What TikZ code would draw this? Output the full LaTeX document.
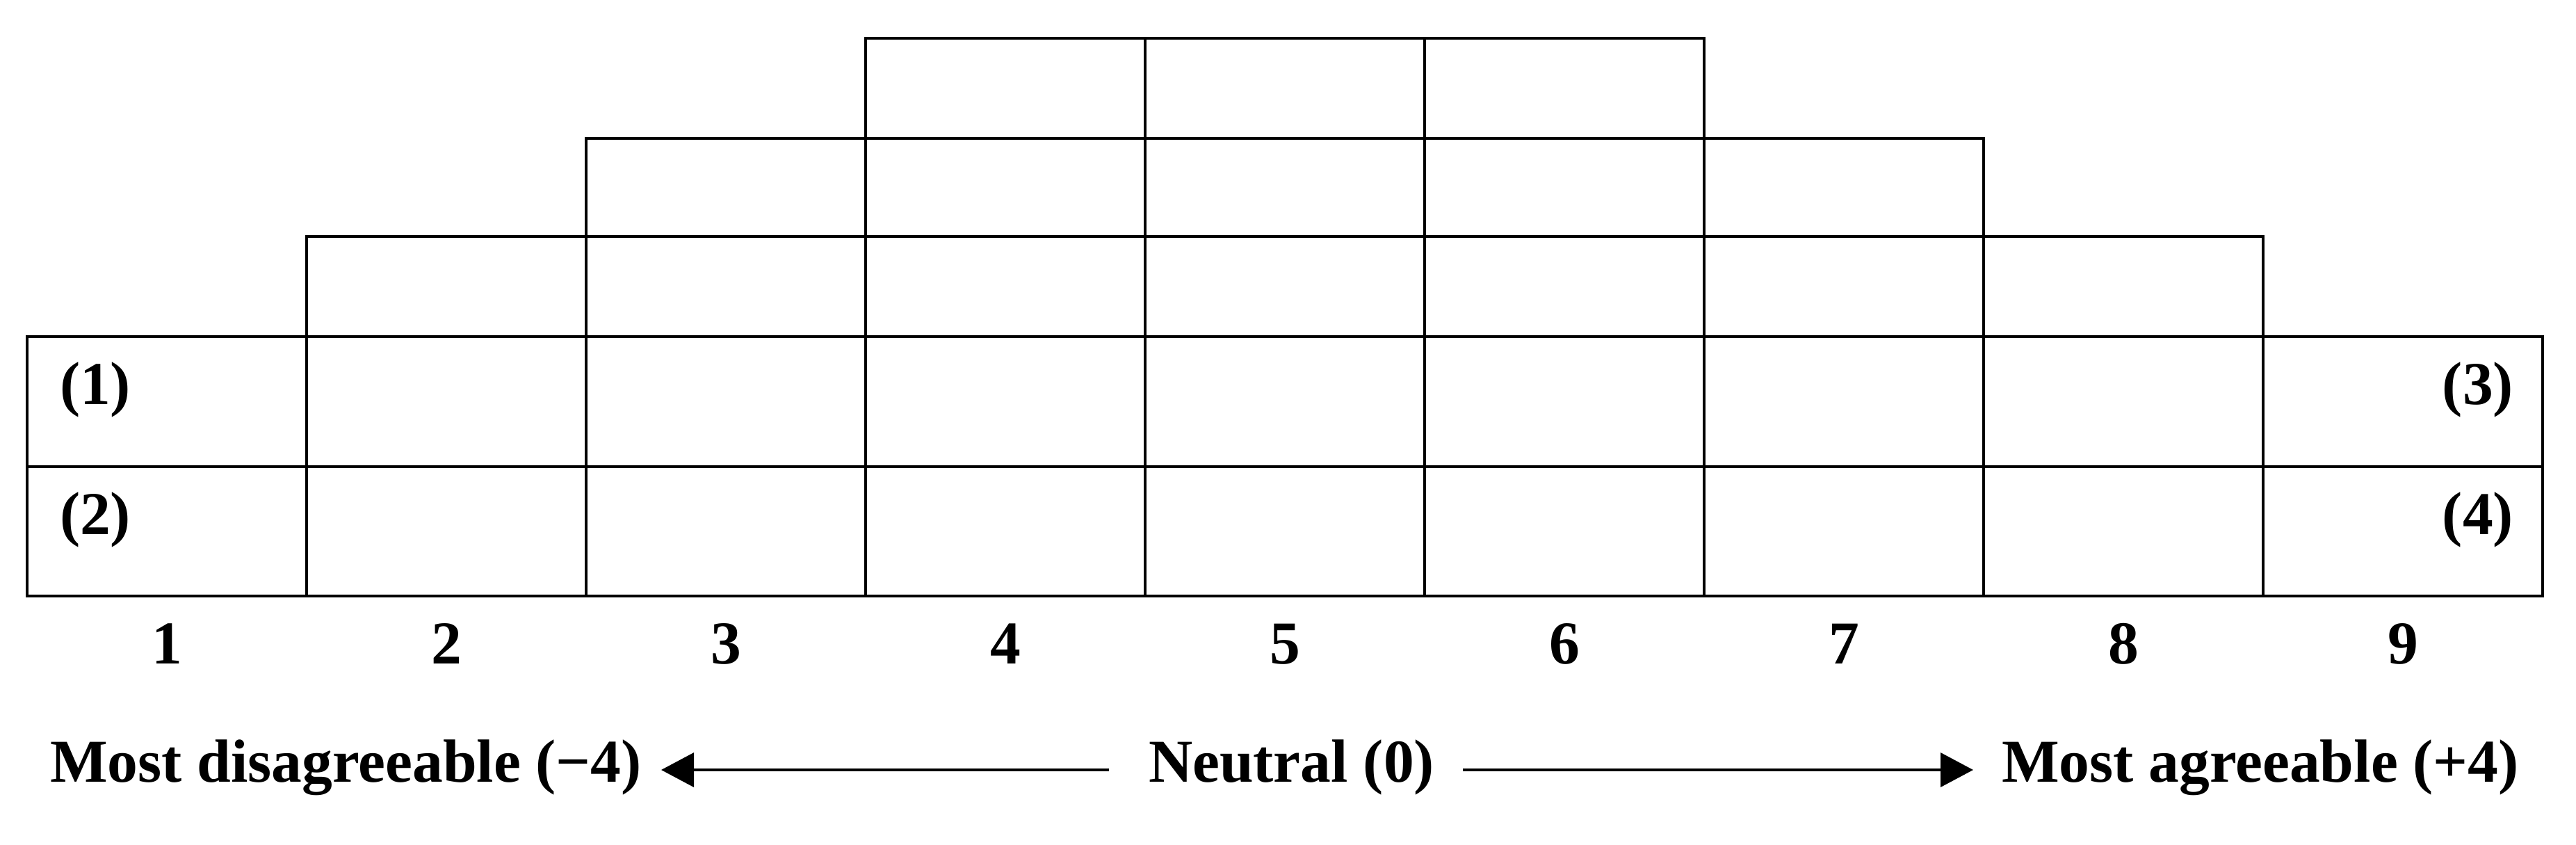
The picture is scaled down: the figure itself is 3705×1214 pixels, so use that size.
\documentclass[tikz,border=0pt]{standalone}
\usepackage{fontspec}
\setmainfont{Liberation Serif}
\usetikzlibrary{arrows.meta}
\begin{document}
\begin{tikzpicture}[x=0.01cm,y=-0.01cm,
  cell/.style={draw, line width=0.35mm, inner sep=0pt, outer sep=0pt, minimum width=4.02cm},
  txt/.style={inner sep=0pt, outer sep=0pt, font=\fontsize{24.9pt}{30pt}\selectfont\bfseries},
  arr/.style={line width=0.38mm, -{Triangle[length=0.47cm,width=0.49cm]}}]
\useasboundingbox (0,0) rectangle (3705,1214);
% grid cells
\foreach \r/\yc/\h/\cols in {1/127/1.44/{4,5,6}, 2/269.5/1.41/{3,...,7}, 3/412/1.44/{2,...,8}, 4/577.5/1.87/{1,...,9}, 5/764/1.86/{1,...,9}}{
  \foreach \c in \cols {
    \node[cell, minimum height=\h cm] (c\c r\r) at ({39+402*(\c-0.5)},\yc) {};
  }
}
% row labels
\node[txt, anchor=base west] (l1) at (86,581) {(1)};
\node[txt, anchor=base west] (l2) at (86,768) {(2)};
\node[txt, anchor=base east] (l3) at (3615,581) {(3)};
\node[txt, anchor=base east] (l4) at (3615,768) {(4)};
% column numbers
\foreach \c in {1,...,9}{
  \node[txt, anchor=base] (n\c) at ({39+402*(\c-0.5)},954) {\c};
}
% bottom scale
\node[txt, anchor=base west] (mdis) at (72,1124) {Most disagreeable (−4)};
\node[txt, anchor=base west] (neutral) at (1652,1124) {Neutral (0)};
\node[txt, anchor=base west] (magr) at (2879,1124) {Most agreeable (+4)};
\coordinate (ls) at (1595,1107);
\coordinate (lt) at (951,1107);
\coordinate (rs) at (2104,1107);
\coordinate (rt) at (2838,1107);
\draw[arr] (ls) -- (lt);
\draw[arr] (rs) -- (rt);
\end{tikzpicture}
\end{document}
